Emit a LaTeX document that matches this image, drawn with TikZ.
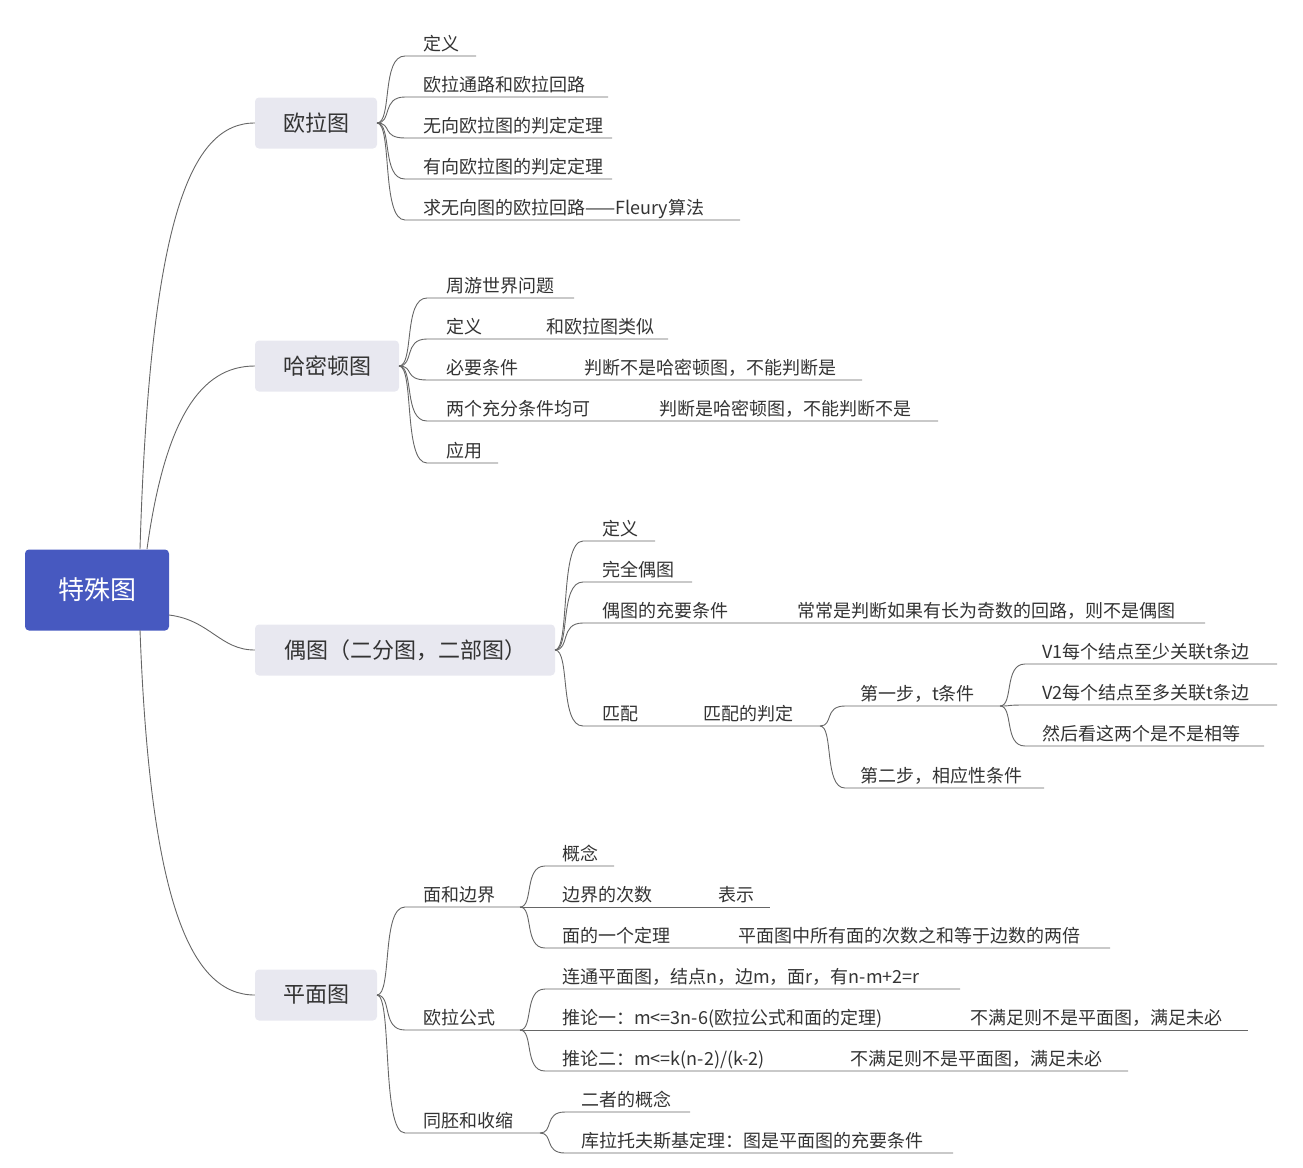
\documentclass[tikz,border=0pt]{standalone}
\usepackage{fontspec}
\setmainfont{Noto Sans CJK SC}
\definecolor{rootblue}{HTML}{4759C0}
\definecolor{mainbox}{HTML}{E8E8F0}
\definecolor{linegray}{HTML}{666666}
\definecolor{txt}{HTML}{333333}
\tikzset{
 conn/.style={draw=linegray,line width=0.9pt},
 leaf/.style={text=txt,font=\fontsize{18}{20}\selectfont,inner sep=0pt,anchor=base west},
 mainnode/.style={fill=mainbox,rounded corners=4pt,text=txt,font=\fontsize{22}{24}\selectfont,minimum height=51pt,inner xsep=0pt},
}
% \br{px}{py}{x0}{ly}{x1}
\newcommand\br[5]{\draw[conn] (#1,#2) .. controls ({#1+0.55*(#3-#1)},#2) and ({#1+0.15*(#3-#1)},#4) .. (#3,#4) -- (#5,#4);}
\newcommand\lf[3]{\node[leaf] at (#1,{#2-6}) {#3};}
\begin{document}
\begin{tikzpicture}[x=1pt,y=-1pt]
\useasboundingbox (0,0) rectangle (1303,1167);
\node[fill=rootblue,rounded corners=4pt,text=white,font=\fontsize{26}{28}\selectfont,minimum width=144pt,minimum height=81pt,inner sep=0pt] (root) at (97,590) {特殊图};
\node[mainnode,minimum width=122pt] (ol) at (316,123) {欧拉图};
\node[mainnode,minimum width=144pt] (hm) at (327,366) {哈密顿图};
\node[mainnode,minimum width=300pt] (ot) at (405,650) {偶图（二分图，二部图）};
\node[mainnode,minimum width=122pt] (pm) at (316,995) {平面图};
\draw[conn] (140,549) .. controls (150,220) and (190,123) .. (ol.west);
\draw[conn] (147,549) .. controls (165,420) and (200,366) .. (hm.west);
\draw[conn] (169,615) .. controls (210,620) and (220,650) .. (ot.west);
\draw[conn] (140,630) .. controls (150,900) and (190,995) .. (pm.west);
% Euler
\br{377}{123}{405}{56}{476}\lf{423}{56}{定义}
\br{377}{123}{405}{97}{608}\lf{423}{97}{欧拉通路和欧拉回路}
\br{377}{123}{405}{138}{612}\lf{423}{138}{无向欧拉图的判定定理}
\br{377}{123}{405}{179}{612}\lf{423}{179}{有向欧拉图的判定定理}
\br{377}{123}{405}{220}{740}\lf{423}{220}{求无向图的欧拉回路——Fleury算法}
% Hamilton
\br{399}{366}{427}{298}{574}\lf{446}{298}{周游世界问题}
\br{399}{366}{427}{339}{668}\lf{446}{339}{定义}\lf{546}{339}{和欧拉图类似}
\br{399}{366}{427}{380}{862}\lf{446}{380}{必要条件}\lf{584}{380}{判断不是哈密顿图，不能判断是}
\br{399}{366}{427}{421}{938}\lf{446}{421}{两个充分条件均可}\lf{659}{421}{判断是哈密顿图，不能判断不是}
\br{399}{366}{427}{463}{498}\lf{446}{463}{应用}
% bipartite
\br{555}{650}{583}{541}{655}\lf{602}{541}{定义}
\br{555}{650}{583}{582}{692}\lf{602}{582}{完全偶图}
\br{555}{650}{583}{623}{1205}\lf{602}{623}{偶图的充要条件}\lf{797}{623}{常常是判断如果有长为奇数的回路，则不是偶图}
\br{555}{650}{583}{726}{820}\lf{602}{726}{匹配}\lf{703}{726}{匹配的判定}
\br{820}{726}{845}{706}{1000}\lf{860}{706}{第一步，t条件}
\br{820}{726}{845}{788}{1044}\lf{860}{788}{第二步，相应性条件}
\br{1000}{706}{1025}{664}{1277}\lf{1042}{664}{V1每个结点至少关联t条边}
\br{1000}{706}{1025}{705}{1277}\lf{1042}{705}{V2每个结点至多关联t条边}
\br{1000}{706}{1025}{746}{1264}\lf{1042}{746}{然后看这两个是不是相等}
% planar
\br{377}{995}{405}{907}{520}\lf{423}{907}{面和边界}
\br{377}{995}{405}{1030}{520}\lf{423}{1030}{欧拉公式}
\br{377}{995}{405}{1133}{540}\lf{423}{1133}{同胚和收缩}
\br{520}{907}{545}{866}{614}\lf{562}{866}{概念}
\br{520}{907}{545}{907}{770}\lf{562}{907}{边界的次数}\lf{718}{907}{表示}
\br{520}{907}{545}{948}{1110}\lf{562}{948}{面的一个定理}\lf{738}{948}{平面图中所有面的次数之和等于边数的两倍}
\br{520}{1030}{545}{989}{960}\lf{562}{989}{连通平面图，结点n，边m，面r，有n-m+2=r}
\br{520}{1030}{545}{1030}{1248}\lf{562}{1030}{推论一：m<=3n-6(欧拉公式和面的定理)}\lf{970}{1030}{不满足则不是平面图，满足未必}
\br{520}{1030}{545}{1071}{1128}\lf{562}{1071}{推论二：m<=k(n-2)/(k-2)}\lf{850}{1071}{不满足则不是平面图，满足未必}
\br{540}{1133}{565}{1112}{690}\lf{581}{1112}{二者的概念}
\br{540}{1133}{565}{1153}{953}\lf{581}{1153}{库拉托夫斯基定理：图是平面图的充要条件}
\end{tikzpicture}
\end{document}
